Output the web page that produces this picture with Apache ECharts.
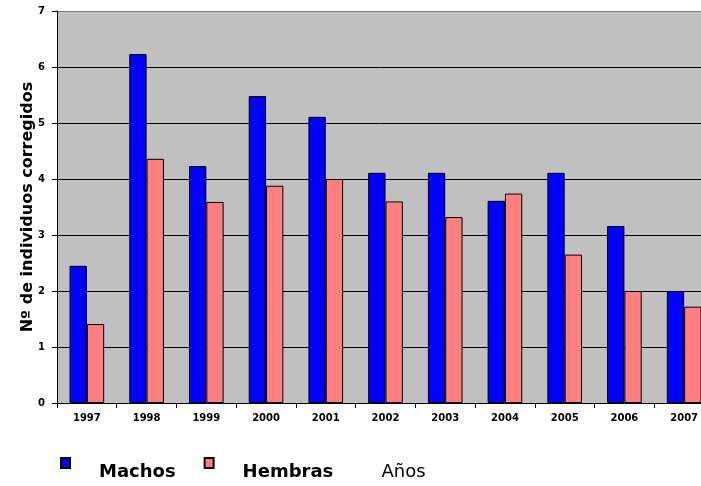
<!DOCTYPE html>
<html>
<head>
<meta charset="utf-8">
<script src="https://cdn.jsdelivr.net/npm/echarts@6/dist/echarts.min.js"></script>
<style>
  html, body { margin: 0; padding: 0; background: #ffffff; }
  #chart { width: 701px; height: 486px; }
</style>
</head>
<body>
<div id="chart"></div>
<script>
// Years on the category axis
const years = ['1997', '1998', '1999', '2000', '2001', '2002', '2003', '2004', '2005', '2006', '2007'];
// Corrected individual counts per year
const machos = [2.45, 6.23, 4.23, 5.48, 5.11, 4.11, 4.11, 3.61, 4.11, 3.16, 2.0];
const hembras = [1.41, 4.36, 3.59, 3.88, 4.0, 3.6, 3.32, 3.74, 2.65, 2.0, 1.72];
// Value axis ticks
const yTicks = [0, 1, 2, 3, 4, 5, 6, 7];

const FONT = 'DejaVu Sans';
const chart = echarts.init(document.getElementById('chart'));

chart.setOption({
  animation: false,
  backgroundColor: '#ffffff',
  grid: {
    left: 57,
    top: 11,
    width: 657,
    height: 392,
    outerBoundsMode: 'none',
    containLabel: false,
    show: true,
    backgroundColor: '#C0C0C0',
    borderWidth: 0
  },
  legend: {
    left: 55,
    top: 452,
    itemWidth: 9,
    itemHeight: 10,
    itemGap: 28,
    icon: 'rect',
    selectedMode: false,
    textStyle: {
      fontFamily: FONT,
      fontWeight: 'bold',
      fontSize: 18,
      color: '#000000',
      padding: [0, 0, 0, 24],
      rich: {
        t: {
          fontFamily: FONT,
          fontWeight: 'bold',
          fontSize: 18,
          color: '#000000',
          padding: [18, 0, 0, 0]
        }
      }
    },
    formatter: '{t|{name}}',
    data: ['Machos', 'Hembras']
  },
  xAxis: {
    type: 'category',
    data: years,
    name: 'Años',
    nameLocation: 'middle',
    nameGap: 60,
    nameMoveOverlap: false,
    nameTextStyle: {
      fontFamily: FONT,
      fontSize: 18,
      color: '#000000',
      padding: [0, 0, 0, 36]
    },
    axisLine: { lineStyle: { color: '#000000', width: 1 } },
    axisTick: { show: true, length: 5, lineStyle: { color: '#000000' } },
    axisLabel: {
      fontFamily: FONT,
      fontWeight: 'bold',
      fontSize: 10,
      color: '#000000',
      margin: 10
    }
  },
  yAxis: {
    type: 'value',
    min: yTicks[0],
    max: yTicks[yTicks.length - 1],
    interval: 1,
    name: 'Nº de individuos corregidos',
    nameLocation: 'middle',
    nameGap: 21,
    nameMoveOverlap: false,
    nameTextStyle: {
      fontFamily: FONT,
      fontWeight: 'bold',
      fontSize: 16,
      color: '#000000'
    },
    axisLine: { show: true, lineStyle: { color: '#000000', width: 1 } },
    axisTick: { show: true, length: 5, lineStyle: { color: '#000000' } },
    axisLabel: {
      fontFamily: FONT,
      fontWeight: 'bold',
      fontSize: 10,
      color: '#000000',
      margin: 12
    },
    splitLine: {
      show: true,
      lineStyle: {
        color: ['#000000', '#000000', '#000000', '#000000', '#000000', '#000000', '#000000', '#808080'],
        width: 1
      }
    }
  },
  series: [
    {
      name: 'Machos',
      type: 'bar',
      data: machos,
      barGap: '0%',
      barCategoryGap: '42%',
      itemStyle: { color: '#0000FF', borderColor: '#000000', borderWidth: 1 }
    },
    {
      name: 'Hembras',
      type: 'bar',
      data: hembras,
      itemStyle: { color: '#FF8080', borderColor: '#000000', borderWidth: 1 }
    }
  ]
});
</script>
</body>
</html>
